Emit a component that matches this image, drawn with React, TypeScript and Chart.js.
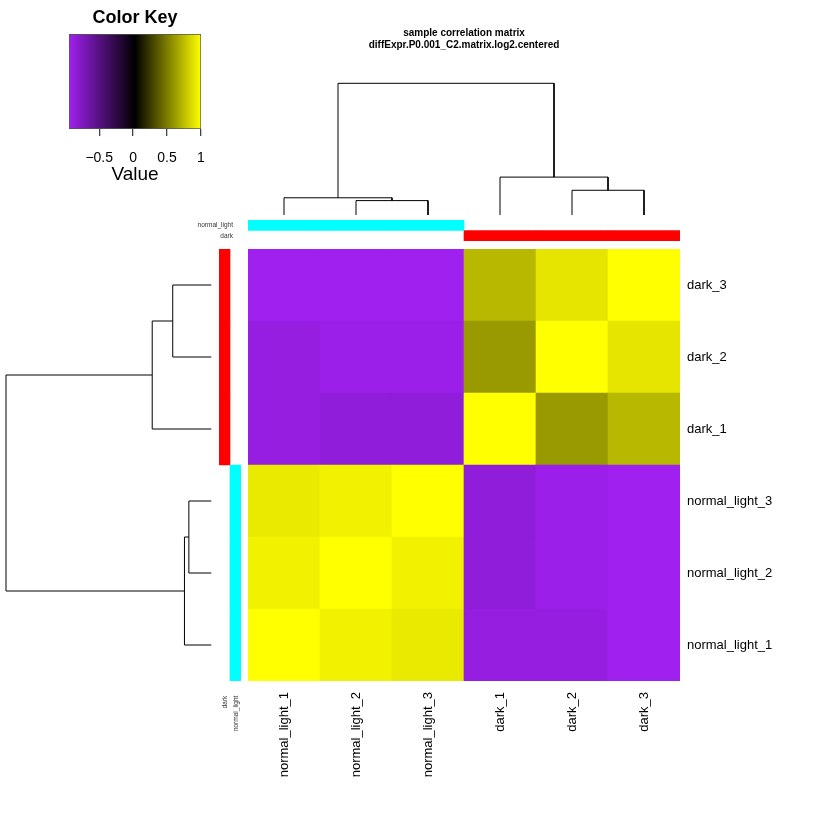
import React, { useEffect, useRef } from 'react';
import { Chart, registerables } from 'chart.js';
Chart.register(...registerables);

const FONT = "'Liberation Sans', Arial, Helvetica, sans-serif";
Chart.defaults.font.family = FONT;
Chart.defaults.color = '#000';

// ---------- data ----------
const samples = ['normal_light_1', 'normal_light_2', 'normal_light_3', 'dark_1', 'dark_2', 'dark_3'];
const sampleGroups = ['normal_light', 'normal_light', 'normal_light', 'dark', 'dark', 'dark'];
const groupNames = ['normal_light', 'dark'];
const groupColors = ['#00FFFF', '#FF0000'];

// correlation rows, in the order of `samples`
const corrNL1 = [1.0, 0.95, 0.92, -0.885, -0.885, -0.945];
const corrNL2 = [0.95, 1.0, 0.95, -0.85, -0.915, -0.945];
const corrNL3 = [0.92, 0.95, 1.0, -0.85, -0.915, -0.945];
const corrD1 = [-0.885, -0.85, -0.85, 1.0, 0.611, 0.728];
const corrD2 = [-0.885, -0.915, -0.915, 0.611, 1.0, 0.9];
const corrD3 = [-0.945, -0.945, -0.945, 0.728, 0.9, 1.0];
const corrMatrix = [corrNL1, corrNL2, corrNL3, corrD1, corrD2, corrD3];

// hierarchical clustering (hclust-style merges: negative = leaf, positive = earlier merge)
const mergeA = [-2, -5, -1, -4, 3];
const mergeB = [-3, -6, 1, 2, 4];
const mergeHeight = [0.224, 0.385, 0.268, 0.59, 2.05];

const keyTicks = [-0.5, 0, 0.5, 1];
const chartTitle = ['sample correlation matrix', 'diffExpr.P0.001_C2.matrix.log2.centered'];

// ---------- helpers ----------
const allValues = corrMatrix.flat();
const keyMin = Math.min(...allValues);
const keyMax = Math.max(...allValues);
const PURPLE = [160, 32, 240];
const YELLOW = [255, 255, 0];

function valueColor(v: number): string {
  const t = (v - keyMin) / (keyMax - keyMin);
  let c: number[];
  if (t < 0.5) {
    const f = t / 0.5;
    c = PURPLE.map((p) => p * (1 - f));
  } else {
    const f = (t - 0.5) / 0.5;
    c = YELLOW.map((p) => p * f);
  }
  return `rgb(${c.map((x) => Math.round(x)).join(',')})`;
}

function nodePos(id: number): number {
  if (id < 0) return -id - 1 + 0.5;
  return (nodePos(mergeA[id - 1]) + nodePos(mergeB[id - 1])) / 2;
}
function nodeHeight(id: number): number {
  return id < 0 ? 0 : mergeHeight[id - 1];
}
const links = mergeHeight.map((h, k) => {
  const a = mergeA[k];
  const b = mergeB[k];
  return [
    { p: nodePos(a), h: nodeHeight(a) },
    { p: nodePos(a), h },
    { p: nodePos(b), h },
    { p: nodePos(b), h: nodeHeight(b) },
  ];
});
const rootHeight = Math.max(...mergeHeight);
const transparent = 'rgba(0,0,0,0)';

const baseOpts = {
  responsive: false,
  animation: false as const,
  events: [] as any[],
  plugins: { legend: { display: false }, tooltip: { enabled: false } },
};

function fixSize(w?: number, h?: number) {
  return (scale: any) => {
    if (w !== undefined) scale.width = w;
    if (h !== undefined) scale.height = h;
    scale.paddingTop = 0;
    scale.paddingBottom = 0;
    scale.paddingLeft = 0;
    scale.paddingRight = 0;
  };
}

// ---------- configs ----------
function keyConfig(): any {
  return {
    type: 'bar',
    data: {
      labels: [''],
      datasets: [
        {
          data: [[keyMin, keyMax]],
          backgroundColor: (ctx: any) => {
            const chart = ctx.chart;
            const xs = chart.scales.x;
            if (!chart.chartArea || !xs) return '#000';
            const x0 = xs.getPixelForValue(keyMin);
            const x1 = xs.getPixelForValue(keyMax);
            const g = chart.ctx.createLinearGradient(x0, 0, x1, 0);
            g.addColorStop(0, valueColor(keyMin));
            g.addColorStop(0.5, valueColor((keyMin + keyMax) / 2));
            g.addColorStop(1, valueColor(keyMax));
            return g;
          },
          borderColor: '#555',
          borderWidth: 1,
          borderSkipped: false,
          barPercentage: 1,
          categoryPercentage: 1,
        },
      ],
    },
    options: {
      ...baseOpts,
      indexAxis: 'y',
      layout: { padding: { left: 69, right: 59, top: 0, bottom: 1 } },
      plugins: {
        ...baseOpts.plugins,
        title: {
          display: true,
          text: 'Color Key',
          color: '#000',
          font: { family: FONT, size: 18, weight: 'bold', lineHeight: 1.2 },
          padding: { top: 7.5, bottom: 4.9 },
        },
      },
      scales: {
        x: {
          type: 'linear',
          min: keyMin,
          max: keyMax,
          afterBuildTicks: (scale: any) => {
            scale.ticks = keyTicks.map((v) => ({ value: v }));
          },
          afterFit: fixSize(undefined, 60),
          ticks: {
            color: '#000',
            font: { family: FONT, size: 14 },
            padding: 14,
            callback: (v: any) => (v < 0 ? '\u2212' + String(Math.abs(v)) : String(v)),
          },
          grid: { drawOnChartArea: false, drawTicks: true, tickLength: 7, color: '#444', lineWidth: 1.3 },
          border: { display: false },
          title: {
            display: true,
            text: 'Value',
            color: '#000',
            font: { family: FONT, size: 19 },
            padding: { top: 0, bottom: 2.5 },
          },
        },
        y: { display: false },
      },
    },
  };
}

function topDendroConfig(): any {
  return {
    type: 'scatter',
    data: {
      datasets: links.map((pts) => ({
        data: pts.map((q) => ({ x: q.p, y: q.h })),
        showLine: true,
        borderColor: '#000',
        borderWidth: 1,
        pointRadius: 0,
        tension: 0,
        clip: false,
      })),
    },
    options: {
      ...baseOpts,
      layout: { padding: { left: 0, right: 0, top: 0, bottom: 5 } },
      plugins: {
        ...baseOpts.plugins,
        title: {
          display: true,
          text: chartTitle,
          color: '#000',
          font: { family: FONT, size: 10, weight: 'bold', lineHeight: 1.2 },
          padding: { top: 7, bottom: 32.3 },
        },
      },
      scales: {
        x: { type: 'linear', min: 0, max: samples.length, display: false },
        y: { type: 'linear', min: 0, max: rootHeight, display: false },
      },
    },
  };
}

function leftDendroConfig(): any {
  return {
    type: 'scatter',
    data: {
      datasets: links.map((pts) => ({
        data: pts.map((q) => ({ x: q.h, y: q.p })),
        showLine: true,
        borderColor: '#000',
        borderWidth: 1,
        pointRadius: 0,
        tension: 0,
        clip: false,
      })),
    },
    options: {
      ...baseOpts,
      layout: { padding: { left: 6, right: 4.7, top: 0, bottom: 0 } },
      scales: {
        x: { type: 'linear', min: 0, max: rootHeight, reverse: true, display: false },
        y: { type: 'linear', min: 0, max: samples.length, display: false },
      },
    },
  };
}

function topSideConfig(): any {
  return {
    type: 'bar',
    data: {
      labels: groupNames,
      datasets: samples.map((s, c) => ({
        label: s,
        data: groupNames.map(() => 1),
        backgroundColor: groupNames.map((g, gi) => (sampleGroups[c] === g ? groupColors[gi] : transparent)),
        borderWidth: 0,
        barPercentage: 1,
        categoryPercentage: 1,
      })),
    },
    options: {
      ...baseOpts,
      indexAxis: 'y',
      layout: { padding: 0 },
      scales: {
        x: { type: 'linear', stacked: true, min: 0, max: samples.length, display: false },
        y: {
          type: 'category',
          stacked: true,
          position: 'left',
          afterFit: fixSize(88, undefined),
          grid: { display: false, drawTicks: false },
          border: { display: false },
          ticks: { color: '#333', font: { family: FONT, size: 6.5 }, padding: 15, autoSkip: false },
        },
      },
    },
  };
}

function leftSideConfig(): any {
  const sideLabels = groupNames.slice().reverse();
  return {
    type: 'bar',
    data: {
      labels: sideLabels,
      datasets: samples.map((s, r) => ({
        label: s,
        data: sideLabels.map(() => 1),
        backgroundColor: sideLabels.map((g) =>
          sampleGroups[r] === g ? groupColors[groupNames.indexOf(g)] : transparent
        ),
        borderWidth: 0,
        barPercentage: 1,
        categoryPercentage: 1,
      })),
    },
    options: {
      ...baseOpts,
      layout: { padding: { left: 19, right: 19, top: 0, bottom: 0 } },
      scales: {
        x: {
          type: 'category',
          stacked: true,
          position: 'bottom',
          afterFit: fixSize(undefined, 60),
          grid: { display: false, drawTicks: false },
          border: { display: false },
          ticks: {
            color: '#333',
            font: { family: FONT, size: 6.5 },
            padding: 14.7,
            labelOffset: 1,
            minRotation: 90,
            maxRotation: 90,
            autoSkip: false,
          },
        },
        y: { type: 'linear', stacked: true, min: 0, max: samples.length, display: false },
      },
    },
  };
}

function heatmapConfig(): any {
  return {
    type: 'bar',
    data: {
      labels: samples,
      datasets: samples.map((rowName, r) => ({
        label: rowName,
        data: corrMatrix[r].map(() => 1),
        backgroundColor: corrMatrix[r].map((v) => valueColor(v)),
        borderWidth: 0,
        barPercentage: 1,
        categoryPercentage: 1,
      })),
    },
    options: {
      ...baseOpts,
      layout: { padding: 0 },
      scales: {
        x: {
          type: 'category',
          stacked: true,
          position: 'bottom',
          afterFit: fixSize(undefined, 140),
          grid: { display: false, drawTicks: false },
          border: { display: false },
          ticks: {
            color: '#000',
            font: { family: FONT, size: 13 },
            padding: 11,
            minRotation: 90,
            maxRotation: 90,
            autoSkip: false,
          },
        },
        y: {
          type: 'linear',
          stacked: true,
          min: 0,
          max: samples.length,
          position: 'right',
          afterBuildTicks: (scale: any) => {
            scale.ticks = samples.map((_, i) => ({ value: i + 0.5 }));
          },
          afterFit: fixSize(150, undefined),
          grid: { display: false, drawTicks: false },
          border: { display: false },
          ticks: {
            color: '#000',
            font: { family: FONT, size: 13 },
            padding: 7,
            callback: (v: any) => samples[Math.floor(Number(v))],
          },
        },
      },
    },
  };
}

// ---------- components ----------
function ChartCanvas(props: { left: number; top: number; width: number; height: number; make: () => any }) {
  const ref = useRef<HTMLCanvasElement | null>(null);
  useEffect(() => {
    if (!ref.current) return;
    const chart = new Chart(ref.current, props.make());
    return () => chart.destroy();
  }, []);
  return (
    <canvas
      ref={ref}
      width={props.width}
      height={props.height}
      style={{
        position: 'absolute',
        left: props.left,
        top: props.top,
        width: props.width,
        height: props.height,
      }}
    />
  );
}

export default function App() {
  return (
    <div
      style={{
        position: 'absolute',
        left: 0,
        top: 0,
        width: 836,
        height: 837,
        background: '#fff',
        overflow: 'hidden',
      }}
    >
      <ChartCanvas left={0} top={0} width={260} height={190} make={keyConfig} />
      <ChartCanvas left={248} top={20} width={432} height={200} make={topDendroConfig} />
      <ChartCanvas left={0} top={249} width={216} height={432} make={leftDendroConfig} />
      <ChartCanvas left={160} top={220} width={520} height={21} make={topSideConfig} />
      <ChartCanvas left={200} top={249} width={60} height={492} make={leftSideConfig} />
      <ChartCanvas left={248} top={249} width={582} height={572} make={heatmapConfig} />
    </div>
  );
}
